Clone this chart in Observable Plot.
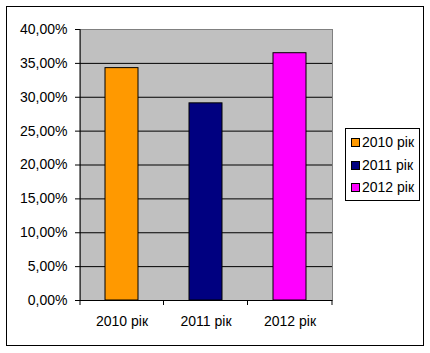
<!DOCTYPE html>
<html>
<head>
<meta charset="utf-8">
<script src="https://cdn.jsdelivr.net/npm/d3@7"></script>
<script src="https://cdn.jsdelivr.net/npm/@observablehq/plot@0.6"></script>
<style>
  html, body { margin: 0; padding: 0; background: #fff; }
  #wrap { position: relative; width: 430px; height: 353px; font-family: "Liberation Sans", Arial, sans-serif; }
  #border { position: absolute; left: 6px; top: 6px; width: 418px; height: 340px; box-sizing: border-box; border: 1px solid #000; pointer-events: none; }
  #chart { position: absolute; left: 0; top: 0; }
  #legend { position: absolute; left: 345px; top: 128px; width: 75px; height: 73px; box-sizing: border-box; border: 1px solid #000; background: #fff; font-size: 14px; color: #000; }
  .item { position: absolute; left: 5px; height: 16px; line-height: 16px; white-space: nowrap; }
  .sw { display: inline-block; width: 7px; height: 7px; border: 1px solid #000; margin-right: 2px; vertical-align: 0px; }
</style>
</head>
<body>
<div id="wrap">
  <div id="chart"></div>
  <div id="border"></div>
  <div id="legend"></div>
</div>
<script>
const years = ["2010 рік", "2011 рік", "2012 рік"];
const values = [34.3, 29.1, 36.5];
const colors = ["#FF9900", "#000080", "#FF00FF"];
const yTicks = [0, 5, 10, 15, 20, 25, 30, 35, 40];

const data = years.map((y, i) => ({year: y, value: values[i]}));
const fmt = d => d.toFixed(2).replace(".", ",") + "%";

const plot = Plot.plot({
  width: 430,
  height: 353,
  marginTop: 29,
  marginBottom: 53,
  marginLeft: 80,
  marginRight: 98,
  style: {fontFamily: "'Liberation Sans', Arial, sans-serif", fontSize: "14px", background: "transparent", color: "#000"},
  x: {type: "band", domain: years, paddingInner: 0.607, paddingOuter: 0.3035, align: 0.5, label: null},
  y: {domain: [0, 40], label: null},
  color: {domain: years, range: colors},
  marks: [
    Plot.frame({fill: "#C0C0C0", stroke: "#808080"}),
    Plot.ruleY(yTicks.filter(d => d > 0 && d < 40), {stroke: "#000", strokeWidth: 1}),
    Plot.barY(data, {x: "year", y: "value", fill: "year", stroke: "#000", strokeWidth: 1}),
    Plot.ruleY([0], {stroke: "#000", strokeWidth: 1}),
    Plot.axisY({ticks: yTicks, tickFormat: fmt, tickSize: 5, tickPadding: 8, fontSize: 14, label: null}),
    Plot.axisX({tickSize: 0, tickPadding: 16, fontSize: 14, label: null})
  ]
});
document.getElementById("chart").appendChild(plot);

// axis line and category boundary ticks from the library's scales
const xs = plot.scale("x");
const ys = plot.scale("y");
const svg = d3.select(plot);
const y0 = ys.apply(0), y40 = ys.apply(40);
const x0 = xs.range[0], x1 = xs.range[1];
svg.append("line").attr("x1", x0).attr("x2", x0).attr("y1", y40).attr("y2", y0).attr("stroke", "#000");
const centers = years.map(c => xs.apply(c) + xs.bandwidth / 2);
const bounds = [x0];
for (let i = 0; i < centers.length - 1; i++) bounds.push((centers[i] + centers[i + 1]) / 2);
bounds.push(x1);
svg.append("g").selectAll("line").data(bounds).join("line")
  .attr("x1", d => d).attr("x2", d => d).attr("y1", y0).attr("y2", y0 + 5).attr("stroke", "#000");

// legend
const legend = document.getElementById("legend");
years.forEach((y, i) => {
  const it = document.createElement("div");
  it.className = "item";
  it.style.top = (5 + i * 22.5) + "px";
  it.innerHTML = `<span class="sw" style="background:${colors[i]}"></span>${y}`;
  legend.appendChild(it);
});
</script>
</body>
</html>
